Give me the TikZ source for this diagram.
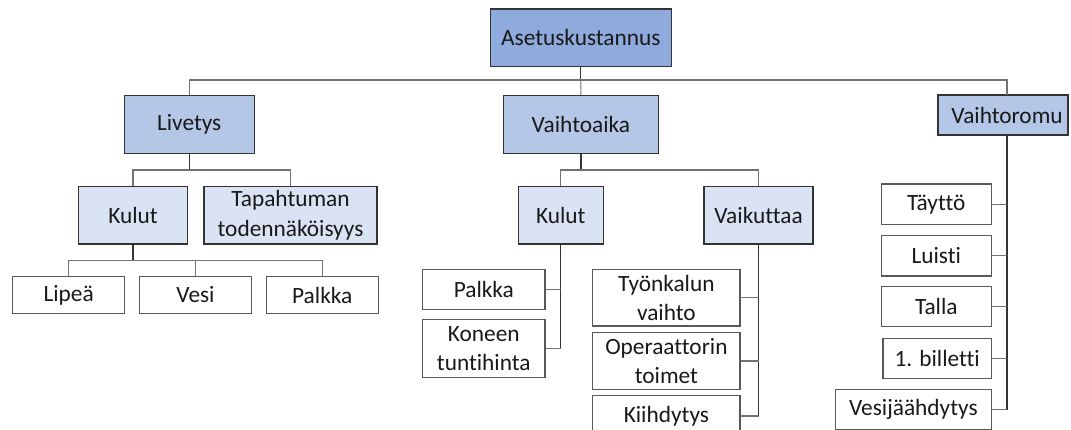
\documentclass[tikz,border=0pt]{standalone}
\usepackage{fontspec}
\setmainfont{Carlito}[Ligatures=NoCommon]
\begin{document}
\begin{tikzpicture}[x=0.75pt,y=-0.75pt,
  every node/.style={font=\fontsize{17.5}{22}\selectfont, text=black!90, align=center, inner sep=0pt},
  bx/.style 2 args={rectangle, minimum width=#1*0.75pt, minimum height=#2*0.75pt},
  lv0/.style={fill=root, draw=black!80, line width=0.9pt},
  lv1/.style={fill=mid, draw=black!80, line width=0.9pt},
  lv2/.style={fill=light, draw=black!80, line width=0.9pt},
  leaf/.style={fill=white, draw=black!65, line width=0.9pt},
  conn/.style={draw=black!55, line width=0.8pt},
  trunk/.style={draw=black!80, line width=0.9pt}
]
\definecolor{root}{HTML}{8FAADC}
\definecolor{mid}{HTML}{B4C7E7}
\definecolor{light}{HTML}{DAE3F3}
\useasboundingbox (0,0) rectangle (1071,429);
\clip (0,0) rectangle (1071,429);

% level 0
\node[lv0, bx={180.8}{57.7}] (root) at (580.8,37.9) {Asetuskustannus};
% level 1
\node[lv1, bx={129.8}{57.6}] (livetys) at (189.2,124.5) {Livetys};
\node[lv1, bx={155}{57.6}] (vaihtoaika) at (580.9,124.5) {Vaihtoaika};
\node[lv1, bx={130}{40}] (vaihtoromu) at (1003,115) {\hspace*{6pt}Vaihtoromu};
% level 2
\node[lv2, bx={109.5}{57.3}] (kulutL) at (133,215.3) {Kulut};
\node[lv2, bx={173.1}{57.3}] (tap) at (290.5,215.3) {Tapahtuman\\todennäköisyys};
\node[lv2, bx={85.1}{57.3}] (kulutV) at (560.8,215.3) {Kulut};
\node[lv2, bx={109.1}{57.3}] (vaikuttaa) at (758.5,215.3) {Vaikuttaa};
% leaves Livetys
\node[leaf, bx={112}{36.6}] (lipea) at (68.7,295) {Lipeä};
\node[leaf, bx={112}{36.6}] (vesi) at (195.5,295) {Vesi};
\node[leaf, bx={112}{36.6}] (palkkaL) at (322.2,295) {Palkka};
% leaves Vaihtoaika / Kulut
\node[leaf, bx={122.5}{40}] (palkkaV) at (483.8,289.3) {Palkka};
\node[leaf, bx={122.5}{58}] (koneen) at (483.8,348.3) {Koneen\\tuntihinta};
% leaves Vaikuttaa
\node[leaf, bx={147.3}{56.7}] (tyonkalun) at (666.4,297.7) {Työnkalun\\vaihto};
\node[leaf, bx={147.3}{56.7}] (operaattorin) at (666.4,361) {Operaattorin\\toimet};
\node[leaf, bx={147.3}{41.4}] (kiihdytys) at (666.4,416) {Kiihdytys};
% leaves Vaihtoromu
\node[leaf, bx={110.2}{40.3}] (taytto) at (936.3,204.2) {Täyttö};
\node[leaf, bx={110.2}{40.3}] (luisti) at (936.3,255.9) {Luisti};
\node[leaf, bx={110.2}{40}] (talla) at (936.3,306.7) {Talla};
\node[leaf, bx={108.4}{40}] (billetti) at (937.2,358.7) {1. billetti};
\node[leaf, bx={156}{40}] (vesij) at (913.4,409.3) {Vesijäähdytys};

% bus coordinates
\coordinate (b0) at (580.8,80);
\coordinate (b1) at (189.2,170);
\coordinate (b2) at (133,260.7);
\coordinate (b3) at (580.9,170);
\coordinate (vrtop) at (1007,95);
\coordinate (vrbot) at (1007,135);

% connectors level 0 -> 1
\draw[trunk] (root.south) -- (b0);
\draw[conn] (livetys.north) |- (b0) -| (vrtop);
\draw[conn] (b0) -- (vaihtoaika.north);
% Livetys -> level 2
\draw[trunk] (livetys.south) -- (b1);
\draw[conn] (kulutL.north) |- (b1) -| (tap.north);
% Kulut L -> leaves
\draw[trunk] (kulutL.south) -- (b2);
\draw[conn] (lipea.north) |- (b2) -| (palkkaL.north);
\draw[conn] (vesi.north) -- (vesi.north |- b2);
% Vaihtoaika -> level 2
\draw[trunk] (vaihtoaika.south) -- (b3);
\draw[conn] (kulutV.north) |- (b3) -| (vaikuttaa.north);
% Kulut V -> leaves
\draw[trunk] (kulutV.south) |- (koneen.east);
\draw[conn] (palkkaV.east) -- (palkkaV.east -| kulutV.south);
\draw[conn] (koneen.east) -- (koneen.east -| kulutV.south);
% Vaikuttaa -> leaves
\draw[trunk] (vaikuttaa.south) |- (kiihdytys.east);
\draw[conn] (tyonkalun.east) -- (tyonkalun.east -| vaikuttaa.south);
\draw[conn] (operaattorin.east) -- (operaattorin.east -| vaikuttaa.south);
\draw[conn] (kiihdytys.east) -- (kiihdytys.east -| vaikuttaa.south);
% Vaihtoromu -> leaves
\draw[trunk] (vrbot) |- (vesij.east);
\draw[conn] (taytto.east) -- (taytto.east -| vrbot);
\draw[conn] (luisti.east) -- (luisti.east -| vrbot);
\draw[conn] (talla.east) -- (talla.east -| vrbot);
\draw[conn] (billetti.east) -- (billetti.east -| vrbot);
\draw[conn] (vesij.east) -- (vesij.east -| vrbot);
\end{tikzpicture}
\end{document}
